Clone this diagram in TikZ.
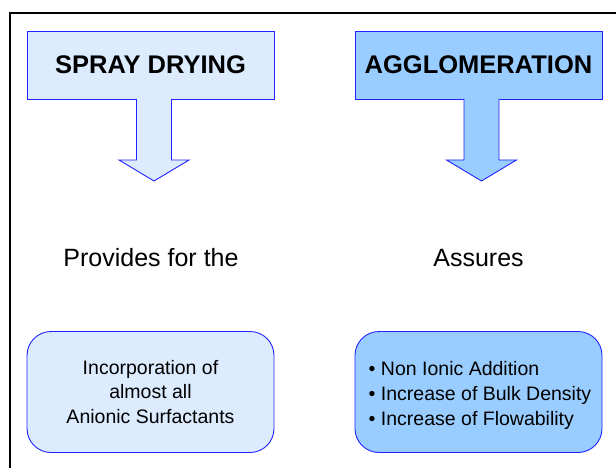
\documentclass[tikz,border=0pt]{standalone}
\usepackage{fontspec}
\setmainfont{Liberation Sans}
\usetikzlibrary{calc}
\definecolor{lightfill}{HTML}{DDEBFF}
\definecolor{darkfill}{HTML}{99CCFF}
\definecolor{edgeblue}{HTML}{2222FF}
\tikzset{
  head/.style={draw=edgeblue, line width=0.9pt, minimum width=247pt, minimum height=68pt, inner sep=0pt,
    font=\fontsize{25.5}{30}\selectfont\bfseries},
  result/.style={draw=edgeblue, line width=0.9pt, rounded corners=24pt, minimum width=247pt, minimum height=121pt, inner sep=0pt,
    font=\fontsize{19.5}{24.5}\selectfont},
  listtext/.style={inner sep=0pt, font=\fontsize{19.5}{24.5}\selectfont},
  verb/.style={font=\fontsize{25}{30}\selectfont, inner sep=0pt},
  blockarrow/.style={draw=edgeblue, line width=0.9pt, line join=miter},
}
\begin{document}
\begin{tikzpicture}[x=1pt,y=-1pt]
\useasboundingbox (0,0) rectangle (616,468);
% frame
\draw[line width=1.3pt] (10,468) -- (10,13) -- (616,13);
% header boxes
\node[head, fill=lightfill] (sd) at (150.5,65) {SPRAY DRYING};
\node[head, fill=darkfill] (ag) at (478.5,65) {AGGLOMERATION};
% block arrows
\coordinate (la) at (154,99);
\coordinate (ra) at (481.5,99);
\draw[blockarrow, fill=lightfill] ($(la)+(-17.5,0)$) -- ($(la)+(-17.5,61)$) -- ($(la)+(-35,61)$) -- ($(la)+(0,82)$)
  -- ($(la)+(35,61)$) -- ($(la)+(17.5,61)$) -- ($(la)+(17.5,0)$);
\draw[blockarrow, fill=darkfill] ($(ra)+(-17.5,0)$) -- ($(ra)+(-17.5,61)$) -- ($(ra)+(-35,61)$) -- ($(ra)+(0,82)$)
  -- ($(ra)+(35,61)$) -- ($(ra)+(17.5,61)$) -- ($(ra)+(17.5,0)$);
% verbs
\node[verb] (pv) at (151,258) {Provides for the};
\node[verb] (as) at (478.5,258) {Assures};
% result boxes
\node[result, fill=lightfill, align=center] (inc) at (150.5,392) {Incorporation of\\almost all\\Anionic Surfactants};
\node[result, fill=darkfill] (ben) at (478.5,392) {};
\node[listtext] (benlist) at (480,395.5) {\begin{tabular}{@{}l@{}}
\textbullet\ Non Ionic Addition\\[0.5pt]
\textbullet\ Increase of Bulk Density\\[0.5pt]
\textbullet\ Increase of Flowability
\end{tabular}};
\end{tikzpicture}
\end{document}
